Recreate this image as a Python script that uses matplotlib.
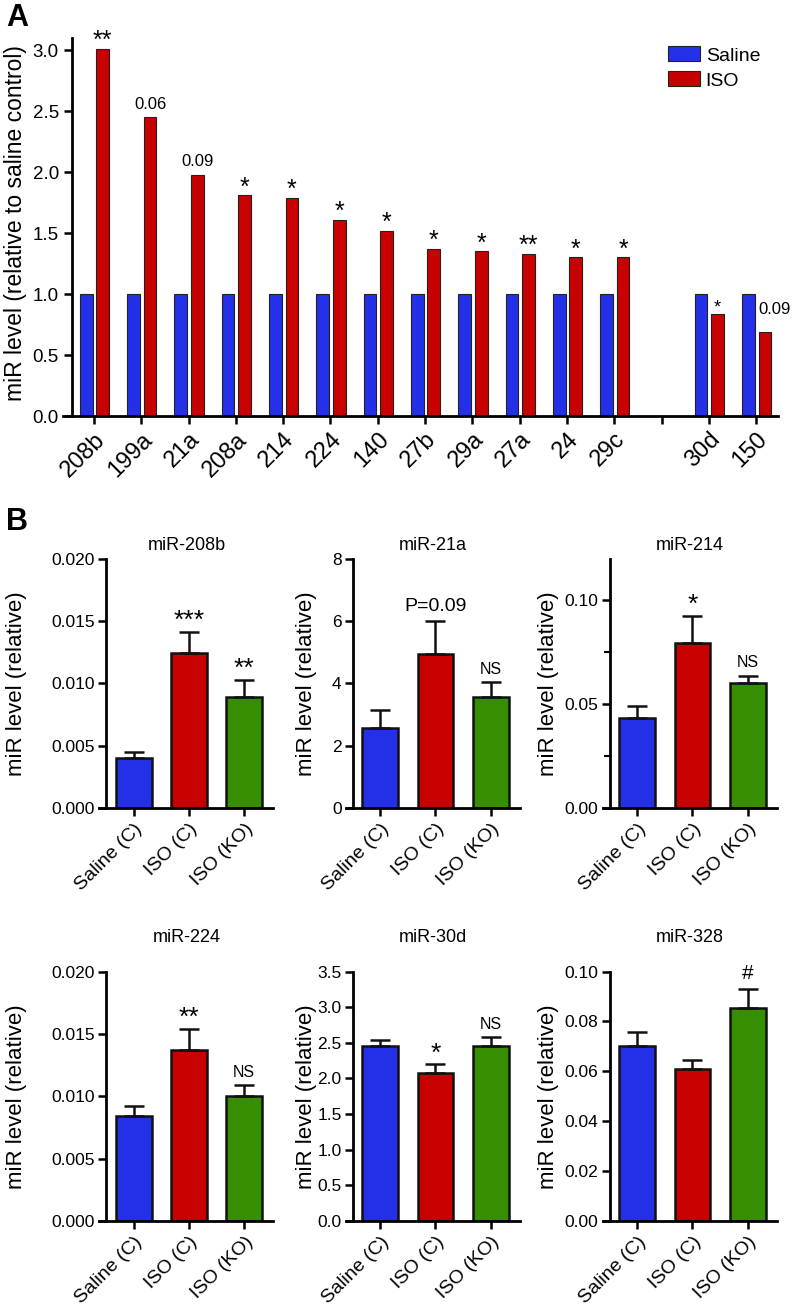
import numpy as np
import matplotlib.pyplot as plt
from matplotlib.ticker import MultipleLocator, FormatStrFormatter

plt.rcParams['font.family'] = ['Liberation Sans', 'DejaVu Sans']

BLUE = '#2330e8'
RED = '#c80000'
GREEN = '#358f00'

# ---- panel A data ----
a_labels = ['208b', '199a', '21a', '208a', '214', '224', '140', '27b',
            '29a', '27a', '24', '29c', '30d', '150']
a_saline = [1.0] * 14
a_iso = [3.01, 2.45, 1.98, 1.81, 1.79, 1.61, 1.52, 1.37, 1.35, 1.33,
         1.30, 1.30, 0.84, 0.69]
a_marks = ['**', '0.06', '0.09', '*', '*', '*', '*', '*', '*', '**',
           '*', '*', '*', '0.09']

# ---- panel B data ----
b_groups = ['Saline (C)', 'ISO (C)', 'ISO (KO)']
b_titles = ['miR-208b', 'miR-21a', 'miR-214', 'miR-224', 'miR-30d', 'miR-328']
b_means = [[0.0040, 0.0124, 0.0089],
           [2.56, 4.94, 3.57],
           [0.0434, 0.0794, 0.0603],
           [0.0084, 0.0137, 0.0100],
           [2.46, 2.08, 2.46],
           [0.0701, 0.0608, 0.0854]]
b_sem = [[0.00048, 0.00175, 0.0014],
         [0.58, 1.07, 0.46],
         [0.0058, 0.0132, 0.0034],
         [0.0008, 0.0017, 0.0009],
         [0.08, 0.12, 0.12],
         [0.0057, 0.0036, 0.0076]]
b_marks = [['', '***', '**'], ['', 'P=0.09', 'NS'], ['', '*', 'NS'],
           ['', '**', 'NS'], ['', '*', 'NS'], ['', '', '#']]
b_ymax = [0.020, 8, 0.12, 0.020, 3.5, 0.10]
b_step = [0.005, 2, 0.05, 0.005, 0.5, 0.02]
b_fmt = ['%.3f', '%d', '%.2f', '%.3f', '%.1f', '%.2f']

fig = plt.figure(figsize=(7.92, 13.09), dpi=100)

# ================= panel A =================
ax = fig.add_axes([0.0795, 0.6822, 0.9028, 0.2888])
pos = np.r_[np.arange(12), np.arange(13, 15)]
w = 0.27
ax.bar(pos - 0.165, a_saline, w, color=BLUE, edgecolor='#222222', lw=0.8, label='Saline')
ax.bar(pos + 0.185, a_iso, w, color=RED, edgecolor='#222222', lw=0.8, label='ISO')

for i, (p, v, m) in enumerate(zip(pos, a_iso, a_marks)):
    if m.startswith('*'):
        fs = 13 if i == 12 else 18
        ax.annotate(m, (p + 0.185, v), xytext=(0, -2 if i == 12 else -3),
                    textcoords='offset points', ha='center', va='bottom', fontsize=fs)
    elif i == 13:
        ax.annotate(m, (p + 0.05, v + 0.18), ha='left', va='center', fontsize=12)
    else:
        ax.annotate(m, (p + 0.185, v), xytext=(0, 4), textcoords='offset points',
                    ha='center', va='bottom', fontsize=12)

ax.set_xlim(-0.655, 14.46)
ax.set_ylim(0, 3.1)
ax.set_xticks(np.arange(15))
ax.set_xticklabels(a_labels[:12] + [''] + a_labels[12:], rotation=45,
                   ha='right', rotation_mode='anchor', fontsize=17)
ax.yaxis.set_major_locator(MultipleLocator(0.5))
ax.yaxis.set_major_formatter(FormatStrFormatter('%.1f'))
ax.tick_params(axis='y', labelsize=13.5, width=1.8, length=6)
ax.tick_params(axis='x', width=1.8, length=6, pad=3)
ax.spines['top'].set_visible(False)
ax.spines['right'].set_visible(False)
ax.spines['left'].set_position(('data', -0.465))
ax.spines['left'].set_linewidth(2)
ax.spines['bottom'].set_linewidth(2)
ax.set_ylabel('miR level (relative to saline control)', fontsize=16.5)
ax.yaxis.set_label_coords(-0.05, 0.51)
ax.legend(loc='upper left', bbox_to_anchor=(0.835, 0.998), frameon=False,
          fontsize=14, handlelength=1.65, handleheight=0.8, handletextpad=0.3,
          labelspacing=0.35, borderaxespad=0)

fig.text(0.008, 0.998, 'A', fontsize=22, fontweight='bold', va='top')
fig.text(0.008, 0.613, 'B', fontsize=22, fontweight='bold', va='top')

# ================= panel B =================
lefts = [99.5 / 792, 346 / 792, 603 / 792]
bottoms = [0.3827, 0.0672]
label_x = [-0.417, -0.167, -0.253]
for k in range(6):
    r, c = divmod(k, 3)
    bx = fig.add_axes([lefts[c], bottoms[r], 174 / 792, 0.1906])
    x = np.arange(3)
    bx.bar(x, b_means[k], 0.65, color=[BLUE, RED, GREEN], edgecolor='#111111', lw=1.8)
    bx.errorbar(x, b_means[k], yerr=[[0, 0, 0], b_sem[k]], fmt='none',
                ecolor='#111111', elinewidth=1.8, capsize=7, capthick=1.8)
    for j in range(3):
        m = b_marks[k][j]
        if not m:
            continue
        top = b_means[k][j] + b_sem[k][j]
        if '*' in m:
            bx.annotate(m, (j, top), xytext=(0, -1), textcoords='offset points',
                        ha='center', va='bottom', fontsize=19)
        elif m == 'NS':
            bx.annotate(m, (j, top), xytext=(0, 4), textcoords='offset points',
                        ha='center', va='bottom', fontsize=11.5)
        elif m == '#':
            bx.annotate(m, (j, top), xytext=(0, 4), textcoords='offset points',
                        ha='center', va='bottom', fontsize=15)
        else:
            bx.annotate(m, (j, top), xytext=(0, 4), textcoords='offset points',
                        ha='center', va='bottom', fontsize=14)
    bx.set_xlim(-0.62, 2.53)
    bx.set_ylim(0, b_ymax[k])
    bx.yaxis.set_major_locator(MultipleLocator(b_step[k]))
    bx.yaxis.set_major_formatter(FormatStrFormatter(b_fmt[k]))
    if k == 2:
        bx.yaxis.set_minor_locator(MultipleLocator(0.025))
        bx.tick_params(axis='y', which='minor', length=4, width=1.5)
    bx.set_xticks(x)
    bx.set_xticklabels(b_groups, rotation=45, ha='right', rotation_mode='anchor',
                       fontsize=14)
    bx.tick_params(axis='y', labelsize=12.5, width=1.8, length=6, pad=2)
    bx.tick_params(axis='x', width=1.8, length=6, pad=3)
    bx.spines['top'].set_visible(False)
    bx.spines['right'].set_visible(False)
    bx.spines['left'].set_position(('data', -0.5))
    bx.spines['left'].set_linewidth(2)
    bx.spines['bottom'].set_linewidth(2)
    bx.set_ylabel('miR level (relative)', fontsize=16)
    bx.yaxis.set_label_coords(label_x[c], 0.5)
    bx.set_title(b_titles[k], fontsize=13, pad=6 if r == 0 else 21)

fig.savefig('out.png', dpi=100)
